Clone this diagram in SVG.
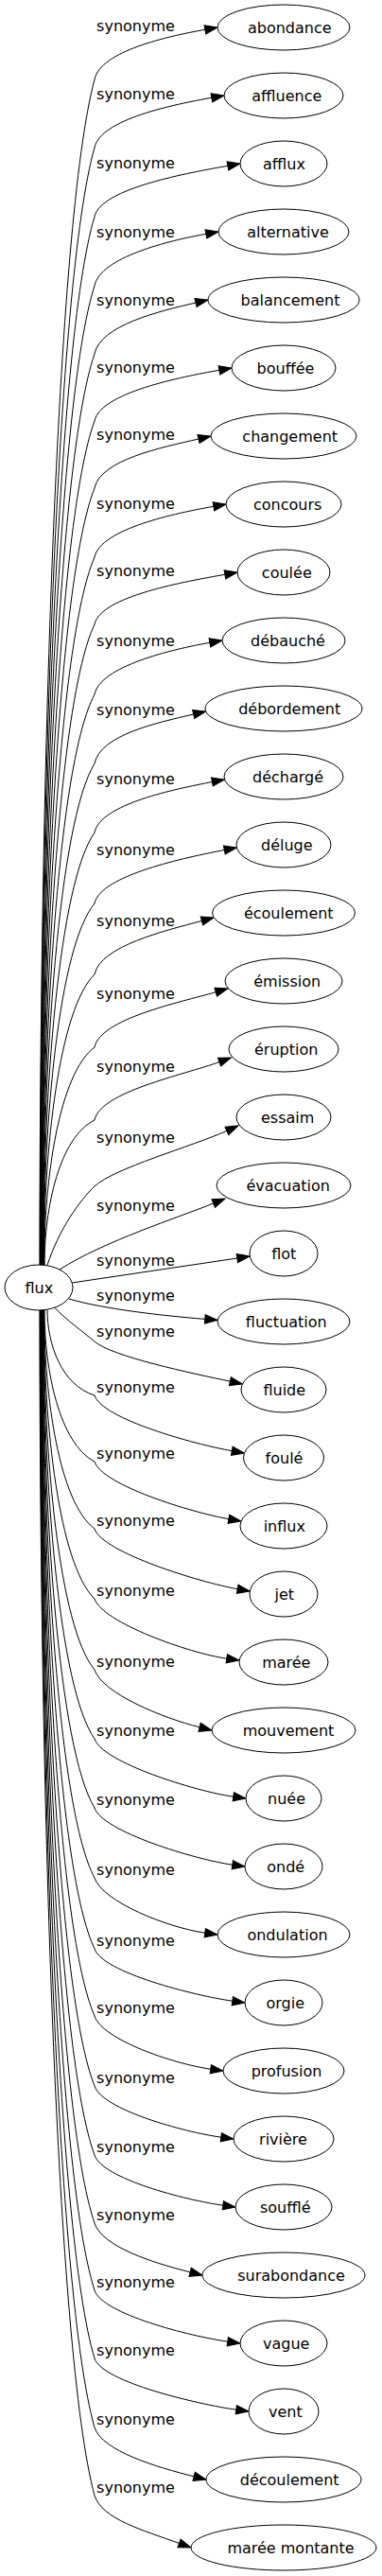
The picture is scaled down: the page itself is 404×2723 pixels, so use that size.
<svg xmlns="http://www.w3.org/2000/svg" width="404" height="2723" viewBox="0 0 404 2723">
<style>
text{font-family:"DejaVu Sans","Liberation Sans",sans-serif;font-size:16px;fill:#000;text-anchor:middle}
.node ellipse{fill:#fff;stroke:#000;stroke-width:1}
.edge path{fill:none;stroke:#000;stroke-width:1;marker-end:url(#arr)}
</style>
<defs>
<marker id="arr" markerUnits="userSpaceOnUse" markerWidth="14" markerHeight="10" viewBox="0 0 14 10" refX="0" refY="4.67" orient="auto" overflow="visible"><path d="M0,0 L13.3,4.67 L0,9.33 Z" fill="#000" stroke="#000" stroke-width="1"/></marker>
</defs>
<rect width="404" height="2723" fill="#fff"/>
<g id="edges">
<g class="edge" id="e0"><path d="M42,1337.5 C42,836.1 59.4,234.4 100,84 C106,54 177.5,38.3 216.9,31.3"/><text x="143.5" y="33">synonyme</text></g>
<g class="edge" id="e1"><path d="M42.3,1337.5 C42.3,864.9 59.6,297.8 100,156 C106,126 184.5,110.3 223.9,103.3"/><text x="143.5" y="105">synonyme</text></g>
<g class="edge" id="e2"><path d="M42.7,1337.5 C42.7,894.1 59.9,362 100,229 C106,199 201.5,182.3 240.9,175.3"/><text x="143.5" y="178">synonyme</text></g>
<g class="edge" id="e3"><path d="M43,1337.5 C43,923.3 60.1,426.3 100,302 C106,272 178.5,254.3 217.9,247.3"/><text x="143.5" y="251">synonyme</text></g>
<g class="edge" id="e4"><path d="M43.3,1337.5 C43.3,952.1 60.3,489.6 100,374 C106,344 168.1,329 207,320"/><text x="143.5" y="323">synonyme</text></g>
<g class="edge" id="e5"><path d="M43.7,1337.5 C43.7,980.5 60.6,552.1 100,445 C106,415 192.5,398.3 231.9,391.3"/><text x="143.5" y="394">synonyme</text></g>
<g class="edge" id="e6"><path d="M44,1337.5 C44,1008.9 60.8,614.6 100,516 C106,486 171.1,473 210,464"/><text x="143.5" y="465">synonyme</text></g>
<g class="edge" id="e7"><path d="M44.3,1337.5 C44.3,1038.1 61,678.8 100,589 C106,559 186.5,542.3 225.9,535.3"/><text x="143.5" y="538">synonyme</text></g>
<g class="edge" id="e8"><path d="M44.7,1337.5 C44.7,1066.5 61.3,741.3 100,660 C106,630 198.5,614.3 237.9,607.3"/><text x="143.5" y="609">synonyme</text></g>
<g class="edge" id="e9"><path d="M45,1337.5 C45,1096.1 61.5,806.4 100,734 C106,704 182.5,686.3 221.9,679.3"/><text x="143.5" y="683">synonyme</text></g>
<g class="edge" id="e10"><path d="M45.3,1337.5 C45.3,1125.3 61.7,870.7 100,807 C106,777 165.8,764 204.7,755"/><text x="143.5" y="756">synonyme</text></g>
<g class="edge" id="e11"><path d="M45.7,1337.5 C45.7,1154.5 62,934.9 100,880 C106,850 185.1,834.1 224.4,826.5"/><text x="143.5" y="829">synonyme</text></g>
<g class="edge" id="e12"><path d="M46,1337.5 C46,1184.5 62.2,1000.9 100,955 C106,925 198,906.1 237.3,898.5"/><text x="143.5" y="904">synonyme</text></g>
<g class="edge" id="e13"><path d="M46.3,1337.5 C46.3,1214.5 62.4,1066.9 100,1030 C106,1000 174.8,983.8 213.4,973.4"/><text x="143.5" y="979">synonyme</text></g>
<g class="edge" id="e14"><path d="M46.7,1337.5 C46.7,1245.3 62.7,1134.7 100,1107 C106,1077 189.8,1059.7 228.2,1048.7"/><text x="143.5" y="1056">synonyme</text></g>
<g class="edge" id="e15"><path d="M47,1337.5 C47,1276.1 62.9,1202.4 100,1184 C106,1154 194.4,1136.3 232,1122.6"/><text x="143.5" y="1133">synonyme</text></g>
<g class="edge" id="e16"><path d="M50,1337.5 C62,1300 85,1268 100,1254 C120,1235 203.3,1211.7 239.85,1195.4"/><text x="143.5" y="1208">synonyme</text></g>
<g class="edge" id="e17"><path d="M63,1342 C110,1312 188.6,1287 225.7,1272"/><text x="143.5" y="1280">synonyme</text></g>
<g class="edge" id="e18"><path d="M76.2,1356 L250.85,1330"/><text x="143.5" y="1338">synonyme</text></g>
<g class="edge" id="e19"><path d="M73,1373 C110,1384 175,1391 216.8,1394.4"/><text x="143.5" y="1375">synonyme</text></g>
<g class="edge" id="e20"><path d="M58,1382.5 C70,1395 88,1408 100,1418 C118,1434 204.3,1451.9 243.4,1460.2"/><text x="143.5" y="1413">synonyme</text></g>
<g class="edge" id="e21"><path d="M50,1384.5 C50,1420.7 65,1464.1 100,1475 C108,1500 205.9,1526.7 245.3,1533.7"/><text x="143.5" y="1472">synonyme</text></g>
<g class="edge" id="e22"><path d="M47,1384.5 C47,1448.7 62.9,1525.7 100,1545 C108,1570 202.5,1598.7 241.9,1605.7"/><text x="143.5" y="1542">synonyme</text></g>
<g class="edge" id="e23"><path d="M46.7,1384.5 C46.7,1477.1 62.7,1588.2 100,1616 C108,1641 211.8,1672.7 251.2,1679.7"/><text x="143.5" y="1613">synonyme</text></g>
<g class="edge" id="e24"><path d="M46.3,1384.5 C46.3,1506.7 62.4,1653.3 100,1690 C108,1715 200.2,1747.6 239.8,1753.2"/><text x="143.5" y="1687">synonyme</text></g>
<g class="edge" id="e25"><path d="M46,1384.5 C46,1536.7 62.2,1719.3 100,1765 C108,1790 172.3,1816.1 211.1,1825.8"/><text x="143.5" y="1762">synonyme</text></g>
<g class="edge" id="e26"><path d="M45.7,1384.5 C45.7,1565.9 62,1783.6 100,1838 C108,1863 207.2,1893.6 246.8,1899.2"/><text x="143.5" y="1835">synonyme</text></g>
<g class="edge" id="e27"><path d="M45.3,1384.5 C45.3,1595.1 61.7,1847.8 100,1911 C108,1936 206.2,1965.6 245.8,1971.2"/><text x="143.5" y="1908">synonyme</text></g>
<g class="edge" id="e28"><path d="M45,1384.5 C45,1624.7 61.5,1912.9 100,1985 C108,2010 177.2,2037.6 216.8,2043.2"/><text x="143.5" y="1982">synonyme</text></g>
<g class="edge" id="e29"><path d="M44.7,1384.5 C44.7,1654.7 61.3,1978.9 100,2060 C108,2085 206.2,2109.6 245.8,2115.2"/><text x="143.5" y="2057">synonyme</text></g>
<g class="edge" id="e30"><path d="M44.3,1384.5 C44.3,1683.1 61,2041.4 100,2131 C108,2156 183.2,2181.6 222.8,2187.2"/><text x="143.5" y="2128">synonyme</text></g>
<g class="edge" id="e31"><path d="M44,1384.5 C44,1712.7 60.8,2106.5 100,2205 C108,2230 194.2,2253.6 233.8,2259.2"/><text x="143.5" y="2202">synonyme</text></g>
<g class="edge" id="e32"><path d="M43.7,1384.5 C43.7,1741.9 60.6,2170.8 100,2278 C108,2303 196.2,2325.6 235.8,2331.2"/><text x="143.5" y="2275">synonyme</text></g>
<g class="edge" id="e33"><path d="M43.3,1384.5 C43.3,1770.7 60.3,2234.1 100,2350 C108,2375 162.3,2392.1 201.1,2401.8"/><text x="143.5" y="2347">synonyme</text></g>
<g class="edge" id="e34"><path d="M43,1384.5 C43,1799.1 60.1,2296.6 100,2421 C108,2446 201.2,2469.6 240.8,2475.2"/><text x="143.5" y="2418">synonyme</text></g>
<g class="edge" id="e35"><path d="M42.7,1384.5 C42.7,1827.9 59.9,2360 100,2493 C108,2518 210.2,2541.6 249.8,2547.2"/><text x="143.5" y="2490">synonyme</text></g>
<g class="edge" id="e36"><path d="M42.3,1384.5 C42.3,1857.1 59.6,2424.2 100,2566 C108,2591 166.3,2608.1 205.1,2617.8"/><text x="143.5" y="2563">synonyme</text></g>
<g class="edge" id="e37"><path d="M42,1384.5 C42,1885.9 59.4,2487.6 100,2638 C108,2663 151.9,2674.75 189.5,2688.45"/><text x="143.5" y="2635">synonyme</text></g>
</g>
<g id="nodes">
<g class="node" id="flux"><ellipse cx="41" cy="1361" rx="36" ry="24"/><text x="41.3" y="1366.5">flux</text></g>
<g class="node" id="n0"><ellipse cx="300" cy="29" rx="70" ry="24"/><text x="306.3" y="34.5">abondance</text></g>
<g class="node" id="n1"><ellipse cx="300" cy="101" rx="63" ry="24"/><text x="303.3" y="106.5">affluence</text></g>
<g class="node" id="n2"><ellipse cx="300" cy="173" rx="46" ry="24"/><text x="300.5" y="178.5">afflux</text></g>
<g class="node" id="n3"><ellipse cx="300" cy="245" rx="69" ry="24"/><text x="304.5" y="250.5">alternative</text></g>
<g class="node" id="n4"><ellipse cx="300" cy="317" rx="80" ry="24"/><text x="307" y="322.5">balancement</text></g>
<g class="node" id="n5"><ellipse cx="300" cy="389" rx="55" ry="24"/><text x="302" y="394.5">bouffée</text></g>
<g class="node" id="n6"><ellipse cx="300" cy="461" rx="77" ry="24"/><text x="306.7" y="466.5">changement</text></g>
<g class="node" id="n7"><ellipse cx="300" cy="533" rx="61" ry="24"/><text x="304.2" y="538.5">concours</text></g>
<g class="node" id="n8"><ellipse cx="300" cy="605" rx="49" ry="24"/><text x="303.3" y="610.5">coulée</text></g>
<g class="node" id="n9"><ellipse cx="300" cy="677" rx="65" ry="24"/><text x="304.5" y="682.5">débauché</text></g>
<g class="node" id="n10"><ellipse cx="300" cy="749" rx="83" ry="24"/><text x="306.2" y="754.5">débordement</text></g>
<g class="node" id="n11"><ellipse cx="300" cy="821" rx="63" ry="24"/><text x="304.5" y="826.5">déchargé</text></g>
<g class="node" id="n12"><ellipse cx="300" cy="893" rx="50" ry="24"/><text x="303.3" y="898.5">déluge</text></g>
<g class="node" id="n13"><ellipse cx="300" cy="965" rx="75.5" ry="24"/><text x="305.3" y="970.5">écoulement</text></g>
<g class="node" id="n14"><ellipse cx="300" cy="1037" rx="62" ry="24"/><text x="303.7" y="1042.5">émission</text></g>
<g class="node" id="n15"><ellipse cx="300" cy="1109" rx="58" ry="24"/><text x="302.7" y="1114.5">éruption</text></g>
<g class="node" id="n16"><ellipse cx="300" cy="1181" rx="50" ry="24"/><text x="304.2" y="1186.5">essaim</text></g>
<g class="node" id="n17"><ellipse cx="300" cy="1253" rx="71" ry="24"/><text x="304.7" y="1258.5">évacuation</text></g>
<g class="node" id="n18"><ellipse cx="300" cy="1325" rx="36" ry="24"/><text x="300.3" y="1330.5">flot</text></g>
<g class="node" id="n19"><ellipse cx="300" cy="1397" rx="70" ry="24"/><text x="302.8" y="1402.5">fluctuation</text></g>
<g class="node" id="n20"><ellipse cx="300" cy="1469" rx="45" ry="24"/><text x="300.8" y="1474.5">fluide</text></g>
<g class="node" id="n21"><ellipse cx="300" cy="1541" rx="42.5" ry="24"/><text x="300.5" y="1546.5">foulé</text></g>
<g class="node" id="n22"><ellipse cx="300" cy="1613" rx="46" ry="24"/><text x="300.8" y="1618.5">influx</text></g>
<g class="node" id="n23"><ellipse cx="300" cy="1685" rx="36" ry="24"/><text x="300.8" y="1690.5">jet</text></g>
<g class="node" id="n24"><ellipse cx="300" cy="1757" rx="47" ry="24"/><text x="302.8" y="1762.5">marée</text></g>
<g class="node" id="n25"><ellipse cx="300" cy="1829" rx="76" ry="24"/><text x="305" y="1834.5">mouvement</text></g>
<g class="node" id="n26"><ellipse cx="300" cy="1901" rx="40" ry="24"/><text x="303" y="1906.5">nuée</text></g>
<g class="node" id="n27"><ellipse cx="300" cy="1973" rx="41" ry="24"/><text x="302.2" y="1978.5">ondé</text></g>
<g class="node" id="n28"><ellipse cx="300" cy="2045" rx="70" ry="24"/><text x="304" y="2050.5">ondulation</text></g>
<g class="node" id="n29"><ellipse cx="300" cy="2117" rx="41" ry="24"/><text x="301.8" y="2122.5">orgie</text></g>
<g class="node" id="n30"><ellipse cx="300" cy="2189" rx="64" ry="24"/><text x="303" y="2194.5">profusion</text></g>
<g class="node" id="n31"><ellipse cx="300" cy="2261" rx="53" ry="24"/><text x="299.5" y="2266.5">rivière</text></g>
<g class="node" id="n32"><ellipse cx="300" cy="2333" rx="51" ry="24"/><text x="301.7" y="2338.5">soufflé</text></g>
<g class="node" id="n33"><ellipse cx="300" cy="2405" rx="86" ry="24"/><text x="308" y="2410.5">surabondance</text></g>
<g class="node" id="n34"><ellipse cx="300" cy="2477" rx="46" ry="24"/><text x="302.7" y="2482.5">vague</text></g>
<g class="node" id="n35"><ellipse cx="300" cy="2549" rx="37" ry="24"/><text x="301.8" y="2554.5">vent</text></g>
<g class="node" id="n36"><ellipse cx="300" cy="2621" rx="82" ry="24"/><text x="306.2" y="2626.5">découlement</text></g>
<g class="node" id="n37"><ellipse cx="300" cy="2693" rx="98" ry="24"/><text x="307.5" y="2698.5">marée montante</text></g>
</g>
</svg>
